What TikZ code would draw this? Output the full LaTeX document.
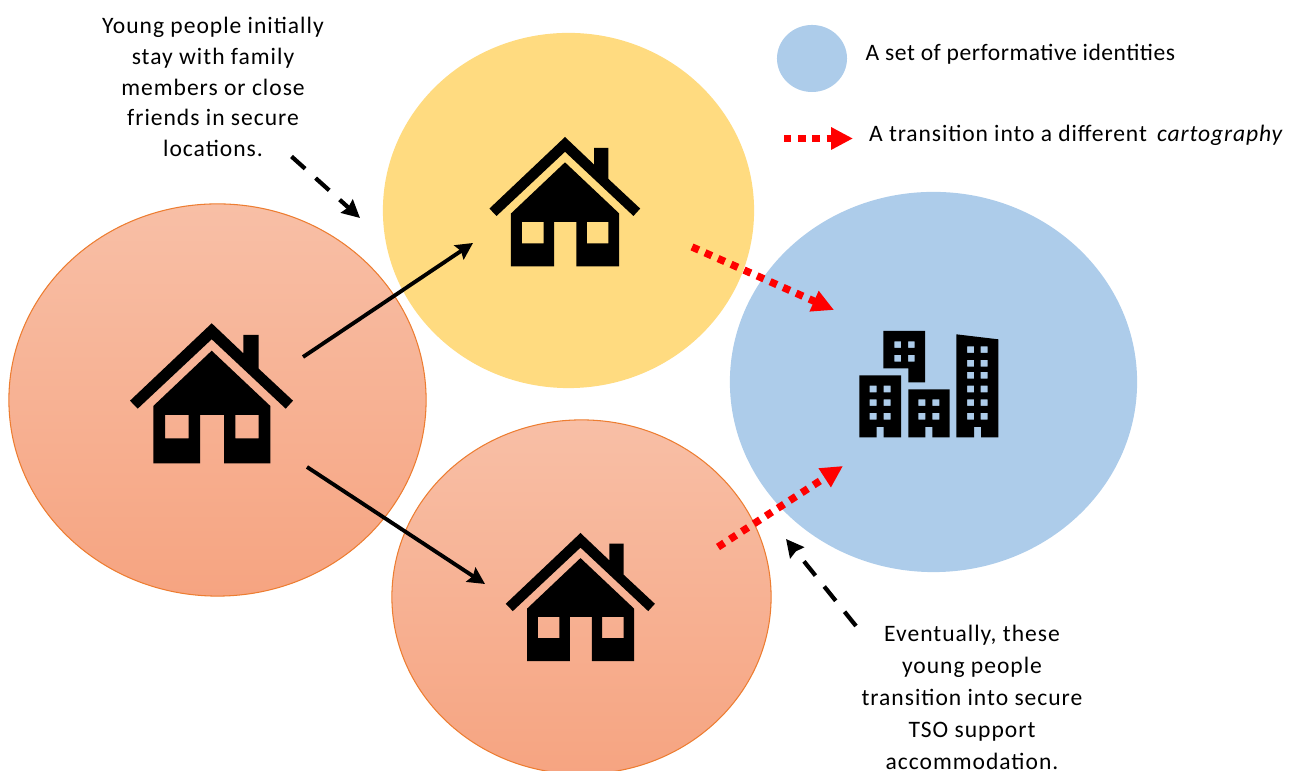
\documentclass[tikz,border=0pt]{standalone}
\usepackage{fontspec}
\setmainfont{Carlito}
\usetikzlibrary{arrows.meta,shapes.geometric}
\definecolor{peachtop}{HTML}{F8BFA6}
\definecolor{peachbot}{HTML}{F6A481}
\definecolor{peachline}{HTML}{ED7D31}
\definecolor{sunfill}{HTML}{FFDB80}
\definecolor{skyfill}{HTML}{ADCCEA}
\tikzset{
  blob/.style={ellipse,inner sep=0pt,minimum width=#1},
  peach/.style={top color=peachtop,bottom color=peachbot,draw=peachline,line width=.3pt},
  caption/.style={align=center,font=\fontsize{6.7pt}{#1}\selectfont\addfontfeature{LetterSpace=4.2,Ligatures=Common},inner sep=0pt},
  legendtext/.style={anchor=west,font=\fontsize{6.7pt}{9pt}\selectfont\addfontfeature{LetterSpace=#1,Ligatures=Common},inner sep=0pt},
  move/.style={line width=1.1pt,-{Stealth[length=4.8pt,width=4.8pt,inset=.7pt]}},
  note/.style={line width=1.2pt,dash pattern=on 5.2pt off 4pt,-{Stealth[length=5pt,width=5pt,inset=.5pt]}},
  shift to/.style={red,line width=2.1pt,dash pattern=on 2.1pt off 1.95pt,-{Triangle[length=6.2pt,width=6pt]}},
  house/.pic={
    \fill (0,0)--(31.6,30)--(31.6,11.7)--(47,11.7)--(47,45.4)--(81.3,77.4)--(74,85.4)--(0,16)
      --(-74,85.4)--(-81.7,77.4)--cycle;
    \fill[even odd rule] (0,27.4)--(58.6,82.7)--(58.6,140)--(12.3,140)--(12.3,91.7)--(-11.7,91.7)
      --(-11.7,140)--(-58.4,140)--(-58.4,82.7)--cycle
      (-46.7,91.7) rectangle (-23,115) (23.6,91.7) rectangle (47,115);
  }
}
\begin{document}
\begin{tikzpicture}[x=.01cm,y=-.01cm]
\useasboundingbox (0,0) rectangle (1305,771);
\begin{scope}
\clip (0,0) rectangle (1305,771);
\node[blob=4.17cm,minimum height=3.92cm,peach] (homeleft) at (217.5,400) {};
\node[blob=3.79cm,minimum height=3.54cm,peach] (homelow) at (581.5,597) {};
\end{scope}
\node[blob=3.71cm,minimum height=3.55cm,fill=sunfill] (homeup) at (568.5,210.5) {};
\node[blob=4.07cm,minimum height=3.80cm,fill=skyfill] (city) at (933.5,382) {};
\node[blob=.70cm,minimum height=.67cm,fill=skyfill] (legendblob) at (812,58.5) {};

\pic at (211.7,323.3) {house};
\pic[scale=.925] at (565,137) {house};
\pic[scale=.915] at (580.5,533) {house};

% buildings
\begin{scope}[shift={(840,320)},scale=1/3]
\fill[even odd rule] (130,33)--(255,33)--(255,187)--(205,187)--(205,145)--(130,145)--cycle
  \foreach \x in {163,204}{\foreach \y in {64,105}{(\x,\y) rectangle ++(20,20)}};
\fill[even odd rule] (58,166)--(183,166)--(183,352)--(131,352)--(131,321)--(110,321)--(110,352)--(58,352)--cycle
  \foreach \x in {89,131}{\foreach \y in {197,238,279}{(\x,\y) rectangle ++(21,20)}};
\fill[even odd rule] (205,208)--(329,208)--(329,352)--(277,352)--(277,321)--(256,321)--(256,352)--(205,352)--cycle
  \foreach \x in {235,277}{\foreach \y in {238,279}{(\x,\y) rectangle ++(21,20)}};
\fill[even odd rule] (349,43)--(475,58)--(475,352)--(423,352)--(423,321)--(402,321)--(402,352)--(349,352)--cycle
  \foreach \x in {381,422}{\foreach \y in {79,120,156,197,238,279}{(\x,\y) rectangle ++(21,20)}};
\end{scope}

\coordinate (leftA) at (303,357);
\coordinate (upA) at (473,243);
\coordinate (leftB) at (307,467);
\coordinate (lowA) at (485,584);
\coordinate (upB) at (692,247);
\coordinate (cityA) at (834,310);
\coordinate (lowB) at (718,547);
\coordinate (cityB) at (843,466);
\coordinate (noteA) at (291.5,156.5);
\coordinate (noteAend) at (360,218);
\coordinate (noteB) at (856,626);
\coordinate (noteBend) at (786,539);
\coordinate (keyA) at (784,138.5);
\coordinate (keyB) at (853,138.5);

\draw[move] (leftA)--(upA);
\draw[move] (leftB)--(lowA);
\draw[shift to] (upB)--(cityA);
\draw[shift to] (lowB)--(cityB);
\draw[note] (noteA)--(noteAend);
\draw[note] (noteB)--(noteBend);
\draw[shift to] (keyA)--(keyB);

\node[caption=8.7pt] (youngtext) at (213,87) {Young people initially\\stay with family\\members or close\\friends in secure\\locations.};
\node[caption=9.1pt] (latertext) at (972,697) {Eventually, these\\young people\\transition into secure\\TSO support\\accommodation.};
\node[legendtext=2.2] (legendone) at (865,54.5) {A set of performative identities};
\node[legendtext=3.8] (legendtwo) at (868.5,135.5) {A transition into a different \,\textit{cartography}};
\end{tikzpicture}
\end{document}
